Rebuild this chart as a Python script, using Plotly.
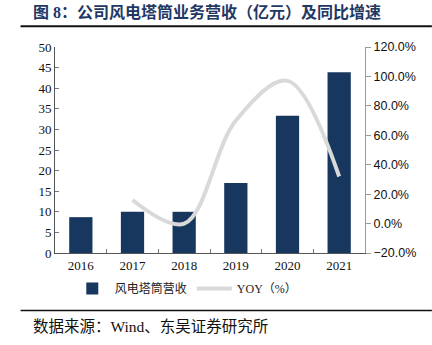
import plotly.graph_objects as go

years = ["2016", "2017", "2018", "2019", "2020", "2021"]
revenue = [8.7, 10.0, 10.0, 17.0, 33.3, 43.9]
yoy_years = ["2017", "2018", "2019", "2020", "2021"]
yoy = [16.0, 0.0, 70.0, 97.0, 32.0]

W, H = 432, 345
L, R, T, B = 54.5, 365, 47.3, 252.7
pw, ph = R - L, B - T

def px(x):
    return (x - L) / pw

def py(y):
    return (B - y) / ph

serif = "Liberation Serif, Times New Roman, serif"
sans = "Liberation Sans, Arial, sans-serif"
cjk = "Liberation Serif, Noto Sans CJK SC, serif"

fig = go.Figure()
fig.add_trace(go.Bar(
    x=years, y=revenue, name="风电塔筒营收",
    marker=dict(color="#17375e", line=dict(width=0)),
    width=0.45, yaxis="y",
))
fig.add_trace(go.Scatter(
    x=yoy_years, y=yoy, name="YOY（%）", mode="lines",
    line=dict(color="#d9d9d9", width=4, shape="spline", smoothing=1.0),
    yaxis="y2",
))

fig.update_layout(
    width=W, height=H,
    margin=dict(l=L, r=W - R, t=T, b=H - B, pad=0),
    paper_bgcolor="white", plot_bgcolor="white",
    bargap=0.55,
    showlegend=True,
    legend=dict(orientation="h", x=px(186), xanchor="center", y=py(288), yanchor="middle",
                font=dict(family=cjk, size=12, color="#222"), itemwidth=35,
                traceorder="normal", bgcolor="rgba(0,0,0,0)"),
    xaxis=dict(type="category", showline=True, linecolor="#555", linewidth=1,
               ticks="inside", tickson="boundaries", ticklen=4, tickcolor="#777",
               tickfont=dict(family=serif, size=13, color="#111"),
               showgrid=False, zeroline=False),
    yaxis=dict(range=[0, 50], dtick=5, showline=True, linecolor="#555", linewidth=1,
               ticks="inside", ticklen=4, tickcolor="#777",
               tickfont=dict(family=serif, size=13, color="#111"),
               showgrid=False, zeroline=False),
    yaxis2=dict(range=[-20, 120], dtick=20, overlaying="y", side="right",
                showline=True, linecolor="#999", linewidth=1,
                ticks="outside", ticklen=5, tickcolor="#999",
                tickformat=".1f", ticksuffix="%",
                tickfont=dict(family=sans, size=12.5, color="#111"),
                showgrid=False, zeroline=False),
    shapes=[
        dict(type="line", xref="paper", yref="paper", x0=px(20), x1=px(432),
             y0=py(26.5), y1=py(26.5), line=dict(color="#111", width=2)),
        dict(type="line", xref="paper", yref="paper", x0=px(20), x1=px(432),
             y0=py(310), y1=py(310), line=dict(color="#111", width=1.5)),
    ],
    annotations=[
        dict(text="<b>图 8：公司风电塔筒业务营收（亿元）及同比增速</b>", xref="paper", yref="paper",
             x=px(30), y=py(12), xanchor="left", yanchor="middle", showarrow=False,
             font=dict(family=cjk, size=16, color="#1f3864")),
        dict(text="数据来源：Wind、东吴证券研究所", xref="paper", yref="paper",
             x=px(30), y=py(326), xanchor="left", yanchor="middle", showarrow=False,
             font=dict(family=cjk, size=15.5, color="#111")),
    ],
)

fig.write_html("out.html")
